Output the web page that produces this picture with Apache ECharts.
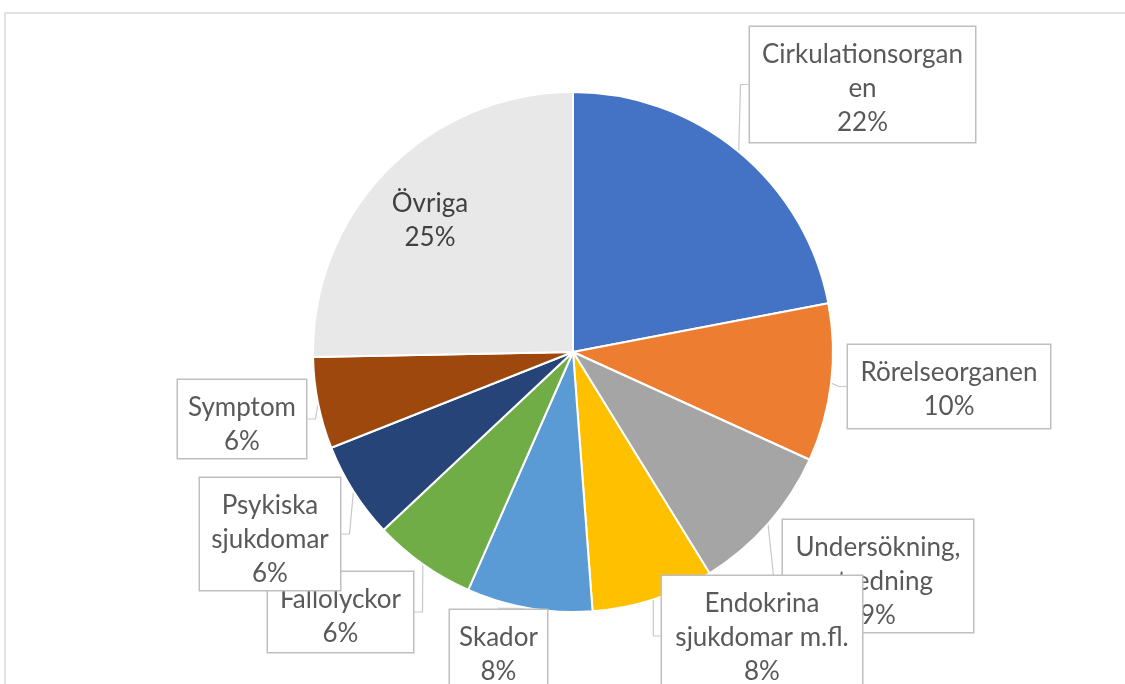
<!DOCTYPE html>
<html>
<head>
<meta charset="utf-8" />
<script src="https://cdn.jsdelivr.net/npm/echarts@6/dist/echarts.min.js"></script>
<style>
  html, body { margin: 0; padding: 0; background: #fff; }
  #chart { width: 1125px; height: 684px; }
</style>
</head>
<body>
<div id="chart"></div>
<script>
// kategorier (medurs från kl. 12)
const categories = [
  'Cirkulationsorganen',
  'Rörelseorganen',
  'Undersökning, utredning',
  'Endokrina sjukdomar m.fl.',
  'Skador',
  'Fallolyckor',
  'Psykiska sjukdomar',
  'Symptom',
  'Övriga'
]
// andel i procent
const shares = [22.0, 9.8, 9.4, 7.6, 7.8, 6.4, 6.0, 5.7, 25.3]
// radbrytning som i Excel-etiketterna
const labelText = [
  'Cirkulationsorgan\nen',
  'Rörelseorganen',
  'Undersökning,\nutredning',
  'Endokrina\nsjukdomar m.fl.',
  'Skador',
  'Fallolyckor',
  'Psykiska\nsjukdomar',
  'Symptom',
  'Övriga'
]

const colors = ['#4472C4', '#ED7D31', '#A5A5A5', '#FFC000', '#5B9BD5', '#70AD47', '#264478', '#9E480E', '#E8E8E8']

// etikettrutor: vänster, topp, bredd, höjd
const boxes = [
  [750, 27, 225, 115],
  [848, 345, 202, 83],
  [783, 520, 190, 112],
  [662, 576, 200, 120],
  [450, 610, 97, 90],
  [268, 572, 145, 80],
  [200, 478, 140, 112],
  [178, 380, 128, 78],
  [372, 176, 116, 80]
]

const chart = echarts.init(document.getElementById('chart'))

const data = categories.map((name, i) => {
  const b = boxes[i]
  const inside = name === 'Övriga'
  return {
    name,
    value: shares[i],
    itemStyle: { color: colors[i] },
    label: {
      width: b[2],
      height: b[3] - 11,
      padding: [11, 0, 0, 0],
      backgroundColor: inside ? 'transparent' : '#fff',
      borderColor: inside ? 'transparent' : '#bfbfbf',
      borderWidth: inside ? 0 : 1.5,
      color: inside ? '#404040' : '#595959'
    },
    labelLine: { show: !inside }
  }
})

chart.setOption({
  animation: false,
  graphic: [{
    type: 'rect',
    shape: { x: 5, y: 13, width: 1140, height: 700 },
    style: { fill: 'none', stroke: '#d9d9d9', lineWidth: 1.5 },
    silent: true
  }],
  series: [{
    type: 'pie',
    center: [573, 352],
    radius: 260,
    startAngle: 90,
    clockwise: true,
    percentPrecision: 0,
    itemStyle: { borderColor: '#fff', borderWidth: 2 },
    label: {
      show: true,
      fontFamily: 'Lato',
      fontSize: 26,
      lineHeight: 34,
      align: 'center',
      formatter: p => labelText[p.dataIndex] + '\n' + p.percent + '%'
    },
    labelLine: {
      show: true,
      length: 8,
      length2: 8,
      lineStyle: { color: '#c8c8c8', width: 1.2 }
    },
    labelLayout: p => {
      const b = boxes[p.dataIndex]
      return { x: b[0] + b[2] / 2, y: b[1], align: 'center', verticalAlign: 'top' }
    },
    data
  }]
})
</script>
</body>
</html>
